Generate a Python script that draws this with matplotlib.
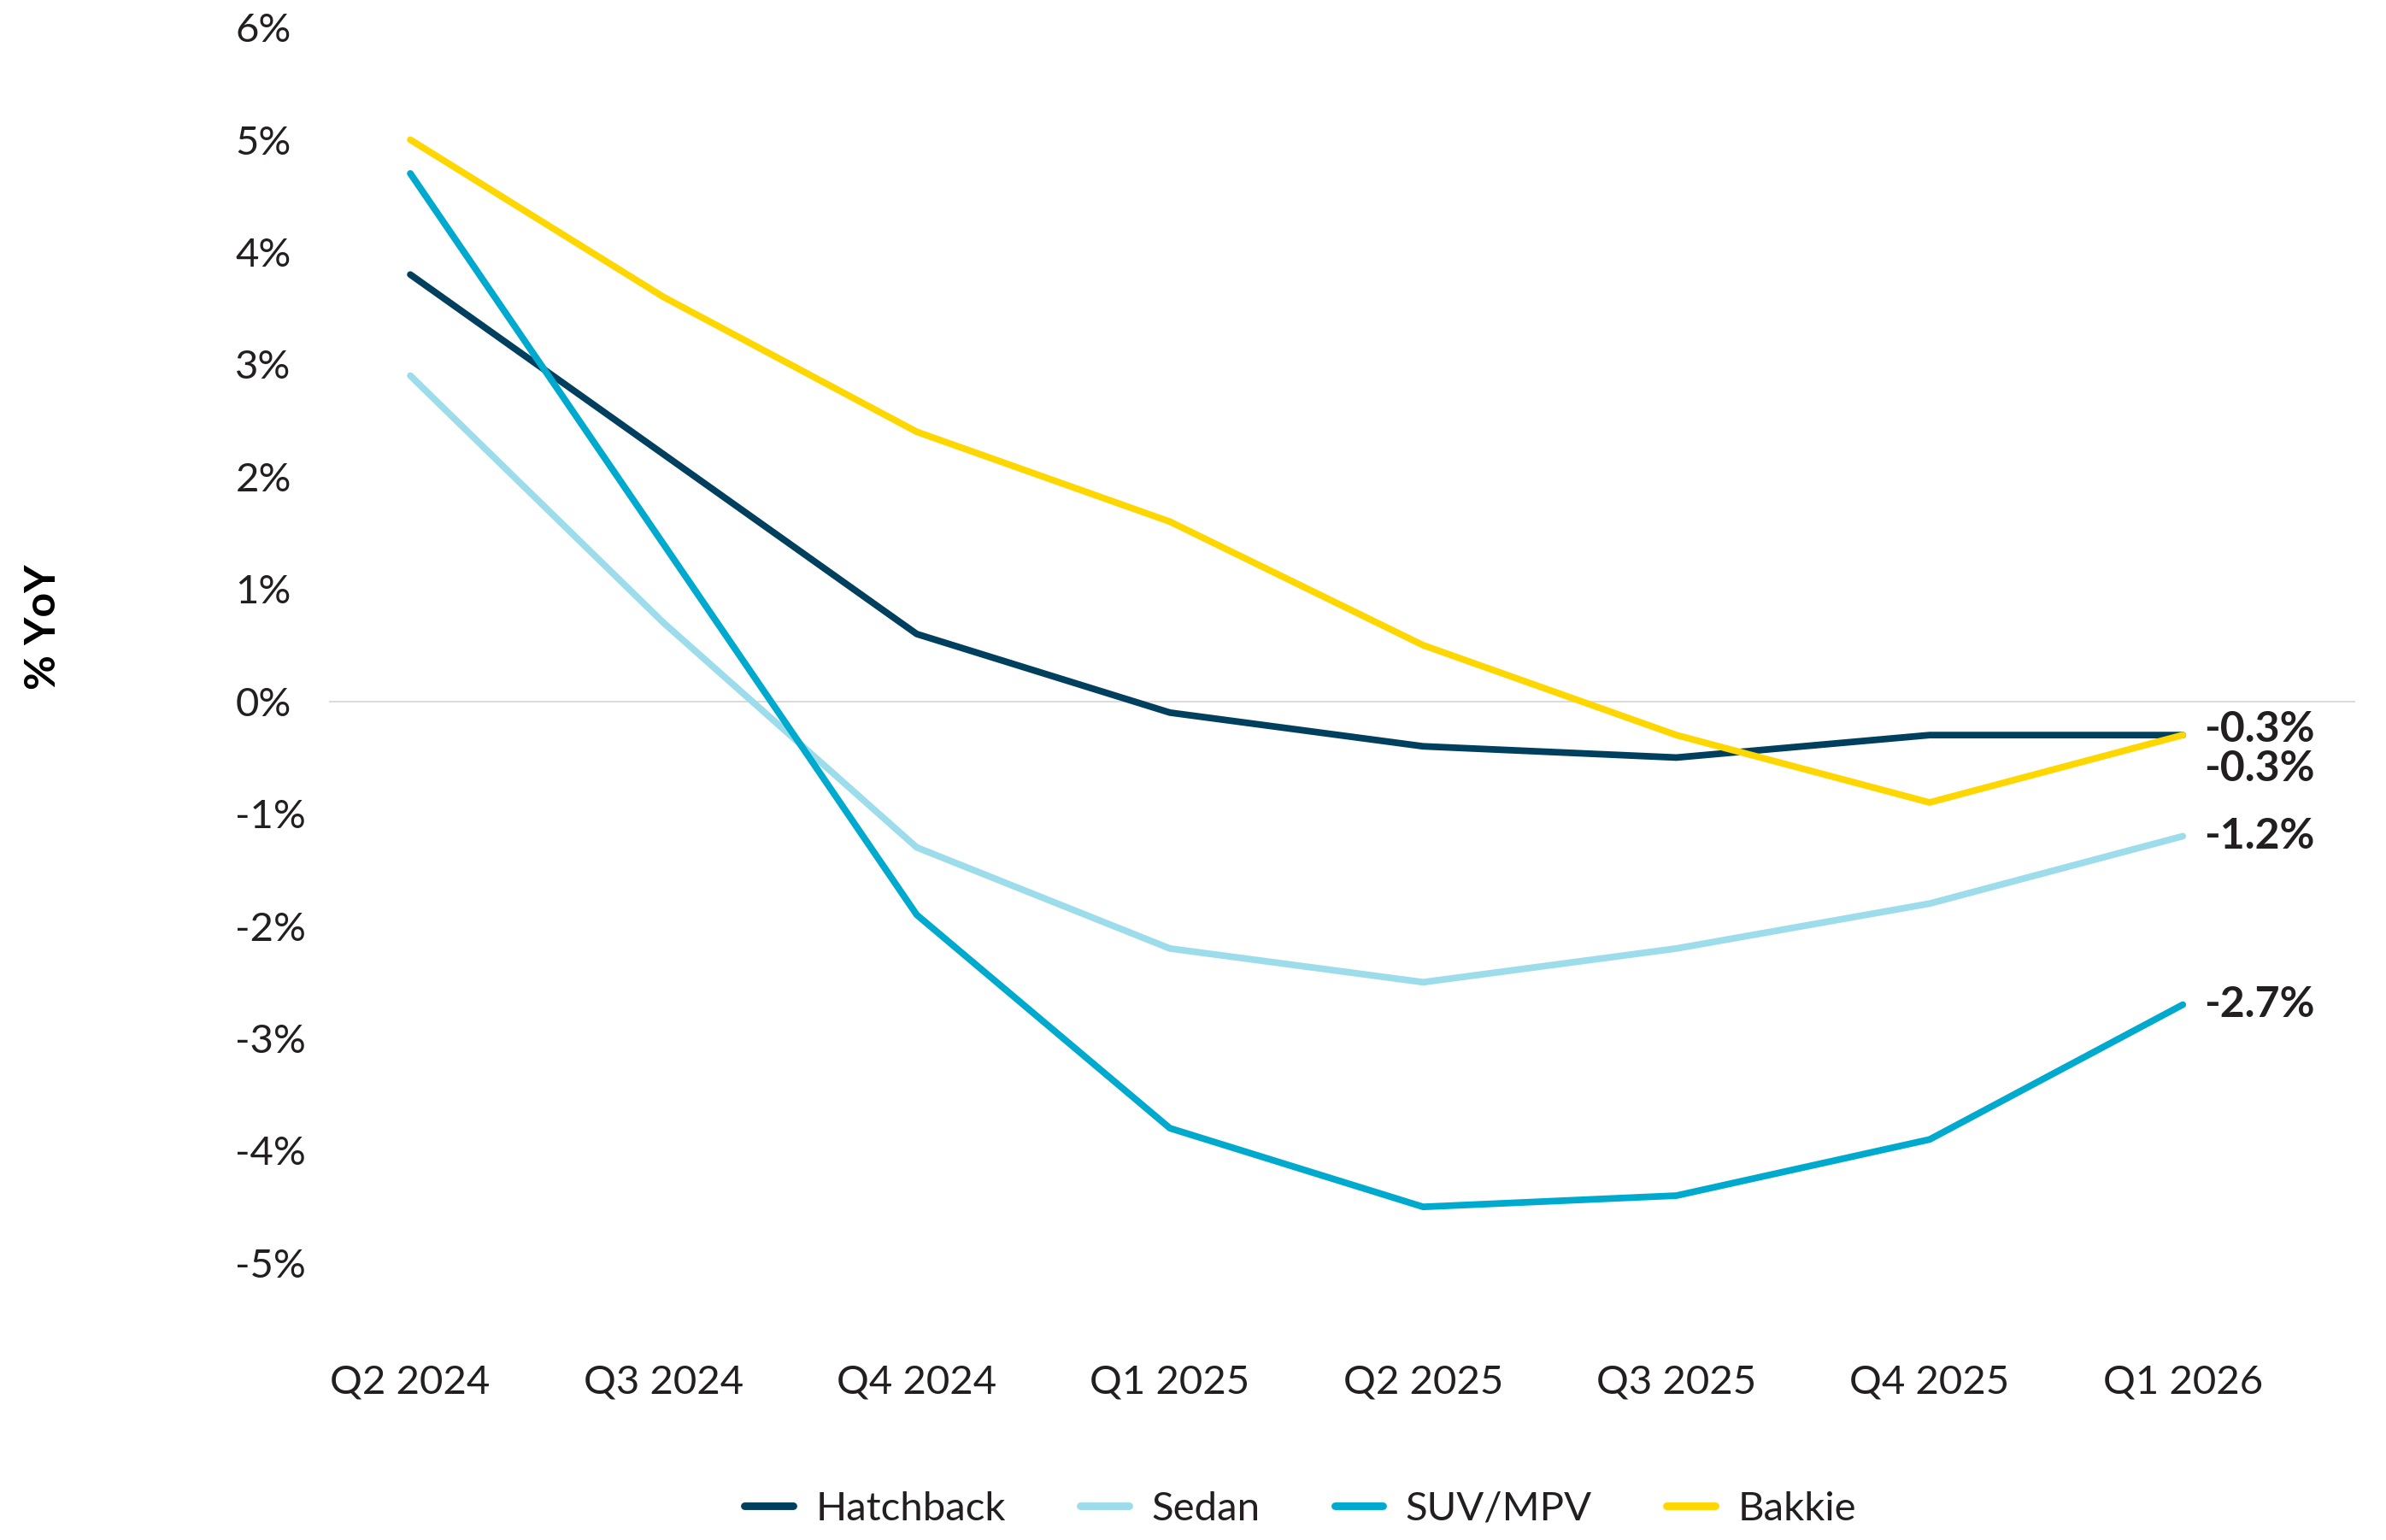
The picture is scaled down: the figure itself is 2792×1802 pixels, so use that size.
import matplotlib.pyplot as plt

plt.rcParams['font.family'] = ['Lato', 'DejaVu Sans']

quarters = ["Q2 2024", "Q3 2024", "Q4 2024", "Q1 2025", "Q2 2025", "Q3 2025", "Q4 2025", "Q1 2026"]
hatchback = [3.8, 2.2, 0.6, -0.1, -0.4, -0.5, -0.3, -0.3]
sedan = [2.9, 0.7, -1.3, -2.2, -2.5, -2.2, -1.8, -1.2]
suv_mpv = [4.7, 1.4, -1.9, -3.8, -4.5, -4.4, -3.9, -2.7]
bakkie = [5.0, 3.6, 2.4, 1.6, 0.5, -0.3, -0.9, -0.3]
y_ticks = [6, 5, 4, 3, 2, 1, 0, -1, -2, -3, -4, -5]

series = [
    ("Hatchback", hatchback, "#00405E", 2.5),
    ("Sedan", sedan, "#9CDCEB", 0),
    ("SUV/MPV", suv_mpv, "#00A9CE", 0),
    ("Bakkie", bakkie, "#FFD700", -14),
]
text_color = "#231F20"

fig = plt.figure(figsize=(13.96, 9.01), dpi=200)
ax = fig.add_axes([0.138, 0.1215, 0.849, 0.8607])

x = list(range(len(quarters)))
ax.axhline(0, color="#DADADA", lw=0.7, zorder=1)

for name, values, color, dy in series:
    ax.plot(x, values, color=color, lw=2.8, solid_capstyle="round",
            solid_joinstyle="round", label=name, zorder=3)
    ax.annotate(f"{values[-1]:.1f}%", xy=(x[-1], values[-1]),
                xytext=(9, dy), textcoords="offset points",
                ha="left", va="center", fontsize=18, fontweight="bold",
                color=text_color)

ax.set_xlim(-0.32, 7.68)
ax.set_ylim(-5.8, 6.0)
ax.set_xticks(x)
ax.set_xticklabels(quarters)
ax.set_yticks(y_ticks)
ax.set_yticklabels([f"{v}%" for v in y_ticks])
for lbl in ax.get_yticklabels():
    lbl.set_horizontalalignment("left")
ax.tick_params(axis="y", length=0, pad=39.6, labelsize=17, labelcolor=text_color)
ax.tick_params(axis="x", length=0, pad=5, labelsize=17, labelcolor=text_color)
for spine in ax.spines.values():
    spine.set_visible(False)

fig.text(0.018, 0.593, "% YoY", rotation=90, ha="center", va="center",
         fontsize=18, fontweight="bold", color="black")

leg = fig.legend(loc="center", bbox_to_anchor=(0.545, 0.02), ncol=4, frameon=False,
                 fontsize=17, handlelength=1.2, handletextpad=0.56, columnspacing=1.85,
                 labelcolor=text_color)
for h in leg.legend_handles:
    h.set_linewidth(3.2)
    h.set_solid_capstyle("round")

fig.savefig("out.png", dpi=200)
